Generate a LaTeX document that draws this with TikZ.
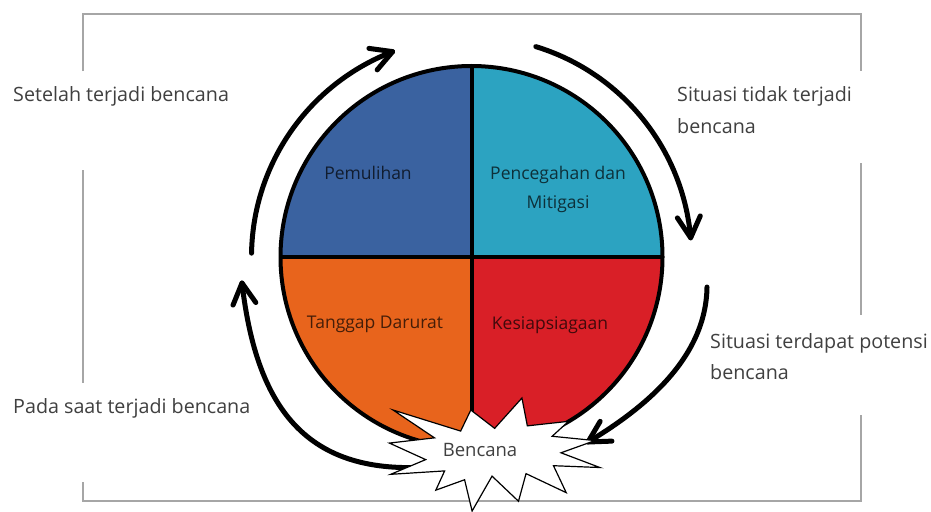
\documentclass[tikz,border=0pt]{standalone}
\usepackage{fontspec}
\setmainfont{Open Sans}
\definecolor{qblue}{HTML}{3A62A0}
\definecolor{qcyan}{HTML}{2CA3C1}
\definecolor{qorange}{HTML}{E8641C}
\definecolor{qred}{HTML}{D91F27}
\definecolor{framegray}{HTML}{A6A6A6}
\definecolor{labelgray}{HTML}{404040}
\begin{document}
\begin{tikzpicture}[x=1pt,y=-1pt,
  framebox/.style={draw=framegray,line width=1.5pt},
  cycarrow/.style={line width=5pt,line cap=round,line join=round},
  sidelabel/.style={font=\fontsize{19.7}{24}\selectfont,text=labelgray,inner sep=0pt,anchor=base west},
  phaselabel/.style={font=\fontsize{17.5}{22}\selectfont,text=black,text opacity=0.7,inner sep=0pt,anchor=base},
  outline/.style={draw=black,line width=4pt}]
\useasboundingbox (0,0) rectangle (931,511);
\fill[white] (0,0) rectangle (931,511);
% frame
\draw[framebox] (83,71) -- (83,14) -- (861,14) -- (861,71);
\draw[framebox] (83,170) -- (83,383);
\draw[framebox] (83,482) -- (83,501) -- (861,501) -- (861,415);
\draw[framebox] (861,163) -- (861,315);
% circle
\coordinate (C) at (471.5,257);
\begin{scope}
\clip (C) circle[radius=191];
\fill[qblue] (C) rectangle (270,60);
\fill[qcyan] (C) rectangle (670,60);
\fill[qorange] (C) rectangle (270,455);
\fill[qred] (C) rectangle (670,455);
\end{scope}
\draw[outline] (C) circle[radius=191];
\draw[outline] ([yshift=-191pt]C) -- ([yshift=191pt]C);
\draw[outline] ([xshift=-191pt]C) -- ([xshift=191pt]C);
% arrows: top-left
\coordinate (t1) at (392.66,51.61);
\coordinate (t1a) at (377.17,69.88);
\coordinate (t1b) at (368.93,48.40);
\draw[cycarrow] ([shift={(181:220)}]C) arc[start angle=181,end angle=249,radius=220];
\draw[cycarrow] (t1a) -- (t1) -- (t1b);
% top-right
\coordinate (t2) at (690.66,237.82);
\coordinate (t2a) at (700.29,215.90);
\coordinate (t2b) at (677.37,217.90);
\draw[cycarrow] ([shift={(287:220)}]C) arc[start angle=287,end angle=355,radius=220];
\draw[cycarrow] (t2a) -- (t2) -- (t2b);
% bottom-right
\coordinate (brs) at (707,287);
\coordinate (bre) at (588,442);
\coordinate (brea) at (611.92,441.11);
\coordinate (breb) at (600.14,421.37);
\draw[cycarrow] (brs) .. controls (706,355) and (650,405) .. (bre);
\draw[cycarrow] (brea) -- (bre) -- (breb);
% bottom-left
\coordinate (bls) at (440,466);
\coordinate (ble) at (242,283);
\coordinate (blea) at (255.83,302.54);
\coordinate (bleb) at (232.99,305.18);
\draw[cycarrow] (bls) .. controls (310,479) and (257,413) .. (ble);
\draw[cycarrow] (blea) -- (ble) -- (bleb);
% star
\begin{scope}[shift={(389.4,398)},xscale=210.5/216,yscale=113/216]
\draw[fill=white,line width=1.2pt] (108,58) -- (136,0) -- (141.55,53.25) -- (183.80,44.57) -- (167.02,73.15) -- (210.97,81.37) -- (176.07,104.75) -- (216,132.90) -- (168.37,129.42) -- (181.45,180.95) -- (140.20,144.57) -- (132.47,197.37) -- (105.32,149.35) -- (84.85,216) -- (77.15,156.27) -- (47.62,176.17) -- (56.67,139.37) -- (1.35,145.87) -- (37.22,117.75) -- (0,86.15) -- (46.27,76.17) -- (3.70,22.95) -- (73.12,63.20) -- (83.52,22.95) -- cycle;
\end{scope}
% labels
\node[sidelabel] (setelah) at (13,101.5) {Setelah terjadi bencana};
\node[sidelabel] (pada) at (13,413) {Pada saat terjadi bencana};
\node[sidelabel] (tidak1) at (677,101.5) {Situasi tidak terjadi};
\node[sidelabel] (tidak2) at (677,133) {bencana};
\node[sidelabel] (potensi1) at (710,348) {Situasi terdapat potensi};
\node[sidelabel] (potensi2) at (710,379) {bencana};
\node[phaselabel] (pemulihan) at (368,179) {Pemulihan};
\node[phaselabel] (pencegahan1) at (558,179) {Pencegahan dan};
\node[phaselabel] (pencegahan2) at (558,208) {Mitigasi};
\node[phaselabel] (tanggap) at (375,328) {Tanggap Darurat};
\node[phaselabel] (kesiap) at (550,329) {Kesiapsiagaan};
\node[font=\fontsize{18.5}{22}\selectfont,text=labelgray,inner sep=0pt,anchor=base] (bencana) at (480,456) {Bencana};
\end{tikzpicture}
\end{document}
